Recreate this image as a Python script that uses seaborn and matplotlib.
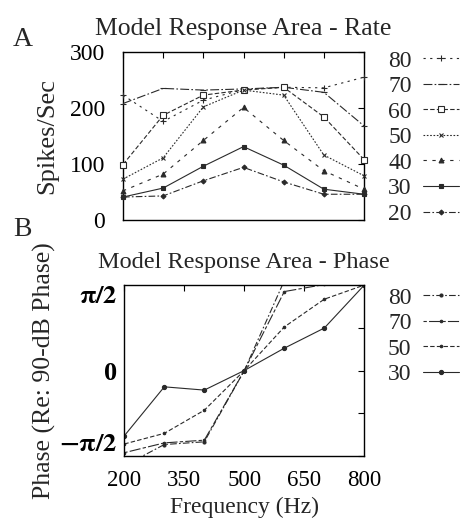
import numpy as np
import pandas as pd
import seaborn as sns
import matplotlib
matplotlib.use("Agg")
import matplotlib.pyplot as plt
from matplotlib.lines import Line2D

sns.set_theme(style="white")
plt.rcParams['font.family'] = ['Liberation Serif', 'DejaVu Serif']
plt.rcParams['mathtext.fontset'] = 'stix'

# ---------------- data ----------------
freqs = [200, 300, 400, 500, 600, 700, 800]

rate_levels = ["80", "70", "60", "50", "40", "30", "20"]
rate_80 = [223, 176, 214, 233, 237, 236, 255]
rate_70 = [208, 235, 232, 234, 237, 228, 168]
rate_60 = [99, 187, 223, 232, 237, 184, 108]
rate_50 = [73, 111, 202, 232, 223, 116, 79]
rate_40 = [52, 82, 142, 201, 142, 88, 55]
rate_30 = [41, 57, 96, 131, 98, 55, 46]
rate_20 = [41, 43, 70, 94, 68, 46, 46]

phase_levels = ["80", "70", "50", "30"]
phase_80 = [-1.75, -1.36, -1.31, 0.0, 1.65, 1.62, 1.60]
phase_70 = [-1.51, -1.33, -1.28, 0.0, 1.45, 1.58, 1.57]
phase_50 = [-1.35, -1.155, -0.73, 0.0, 0.80, 1.31, 1.57]
phase_30 = [-1.20, -0.30, -0.36, 0.0, 0.41, 0.78, 1.57]

rate_ticks = [0, 100, 200, 300]
phase_xticks = [200, 350, 500, 650, 800]
phase_xticklabels = ["200", "350", "500", "650", "800"]

# ---------------- styles ----------------
INK = "#2a2a2a"
rate_styles = {
    "80": dict(ls=(0, (2, 4)), marker="+", ms=4, mfc=INK),
    "70": dict(ls=(0, (8, 2, 1.5, 2)), marker="_", ms=4, mfc=INK),
    "60": dict(ls=(0, (4, 2)), marker="s", ms=4, mfc="white"),
    "50": dict(ls=(0, (1.5, 1.5)), marker="x", ms=3.5, mfc=INK),
    "40": dict(ls=(0, (3, 5)), marker="^", ms=3.5, mfc=INK),
    "30": dict(ls="-", marker="s", ms=3, mfc=INK),
    "20": dict(ls=(0, (6, 2, 1.5, 2)), marker="D", ms=2.5, mfc=INK),
}
phase_styles = {
    "80": dict(ls=(0, (6, 2, 1.5, 2)), marker="o", ms=2.2, mfc=INK),
    "70": dict(ls=(0, (3, 2, 10, 2)), marker="o", ms=1.8, mfc=INK),
    "50": dict(ls=(0, (4, 2)), marker="o", ms=1.8, mfc=INK),
    "30": dict(ls="-", marker="o", ms=3, mfc=INK),
}

fig = plt.figure(figsize=(4.69, 5.18), dpi=100)

axA = fig.add_axes([123 / 469, 1 - 220 / 518, 241 / 469, 168 / 518])
axB = fig.add_axes([124.3 / 469, 1 - 456 / 518, 240 / 469, 171 / 518])

rate_data = dict(zip(rate_levels, [rate_80, rate_70, rate_60, rate_50, rate_40, rate_30, rate_20]))
phase_data = dict(zip(phase_levels, [phase_80, phase_70, phase_50, phase_30]))

LW = 0.8
handlesA = []
for lvl in rate_levels:
    st = rate_styles[lvl]
    sns.lineplot(x=freqs, y=rate_data[lvl], ax=axA, color=INK, lw=LW,
                 linestyle=st["ls"], marker=st["marker"], markersize=st["ms"],
                 mfc=st["mfc"], mec=INK, mew=0.8, clip_on=False, zorder=3)
    handlesA.append(Line2D([0], [0], color=INK, lw=LW, linestyle=st["ls"],
                           marker=st["marker"], markersize=st["ms"],
                           mfc=st["mfc"], mec=INK, mew=0.8))

handlesB = []
for lvl in phase_levels:
    st = phase_styles[lvl]
    sns.lineplot(x=freqs, y=phase_data[lvl], ax=axB, color=INK, lw=LW,
                 linestyle=st["ls"], marker=st["marker"], markersize=st["ms"],
                 mfc=st["mfc"], mec=INK, mew=0.8)
    handlesB.append(Line2D([0], [0], color=INK, lw=LW, linestyle=st["ls"],
                           marker=st["marker"], markersize=st["ms"],
                           mfc=st["mfc"], mec=INK, mew=0.8))

for ax in (axA, axB):
    for sp in ax.spines.values():
        sp.set_color("black")
        sp.set_linewidth(1.0)
    ax.tick_params(direction="in", length=4, width=0.8, top=True, right=True,
                   colors="black", labelsize=16)
    ax.set_facecolor("white")

# Panel A
axA.set_xlim(200, 800)
axA.set_ylim(0, 300)
axA.set_xticks(freqs)
axA.set_xticklabels([])
axA.set_yticks(rate_ticks)
axA.set_yticklabels([str(t) for t in rate_ticks])
axA.tick_params(axis="y", pad=13, labelsize=17)
axA.set_title("Model Response Area - Rate", fontsize=18.5, pad=12)
axA.set_ylabel("Spikes/Sec", fontsize=19, labelpad=8)

# Panel B
axB.set_xlim(200, 800)
axB.set_ylim(-np.pi / 2, np.pi / 2)
axB.set_xticks(phase_xticks)
axB.set_xticklabels(phase_xticklabels)
axB.set_yticks([-np.pi / 2, -np.pi / 4, 0, np.pi / 4, np.pi / 2])
axB.set_yticklabels([r"$\mathbf{-\pi/2}$", "", "0", "", r"$\mathbf{\pi/2}$"], fontweight="bold")
ylabs = axB.get_yticklabels()
ylabs[0].set_va("bottom")
ylabs[4].set_va("top")
axB.tick_params(axis="y", pad=5, labelsize=19)
axB.tick_params(axis="x", pad=10, labelsize=16.5)
axB.set_title("Model Response Area - Phase", fontsize=17.5, pad=12)
axB.set_xlabel("Frequency (Hz)", fontsize=17)
axB.xaxis.set_label_coords(0.5, (456 - 497) / 171)
axB.set_ylabel("Phase (Re: 90-dB Phase)", fontsize=18.5, labelpad=2)

# Legends
fig.legend(handlesA, rate_levels, loc="upper left", bbox_to_anchor=(388 / 469, 1 - 50 / 518),
           frameon=False, markerfirst=False, fontsize=17, handlelength=1.5,
           handletextpad=0.5, labelspacing=0.17, borderpad=0, borderaxespad=0)
fig.legend(handlesB, phase_levels, loc="upper left", bbox_to_anchor=(388 / 469, 1 - 287 / 518),
           frameon=False, markerfirst=False, fontsize=17, handlelength=1.5,
           handletextpad=0.5, labelspacing=0.17, borderpad=0, borderaxespad=0)

fig.text(13 / 469, 1 - 40 / 518, "A", fontsize=20, va="center", ha="left")
fig.text(13 / 469, 1 - 230 / 518, "B", fontsize=20, va="center", ha="left")

fig.savefig("out.png", dpi=100, facecolor="white")
